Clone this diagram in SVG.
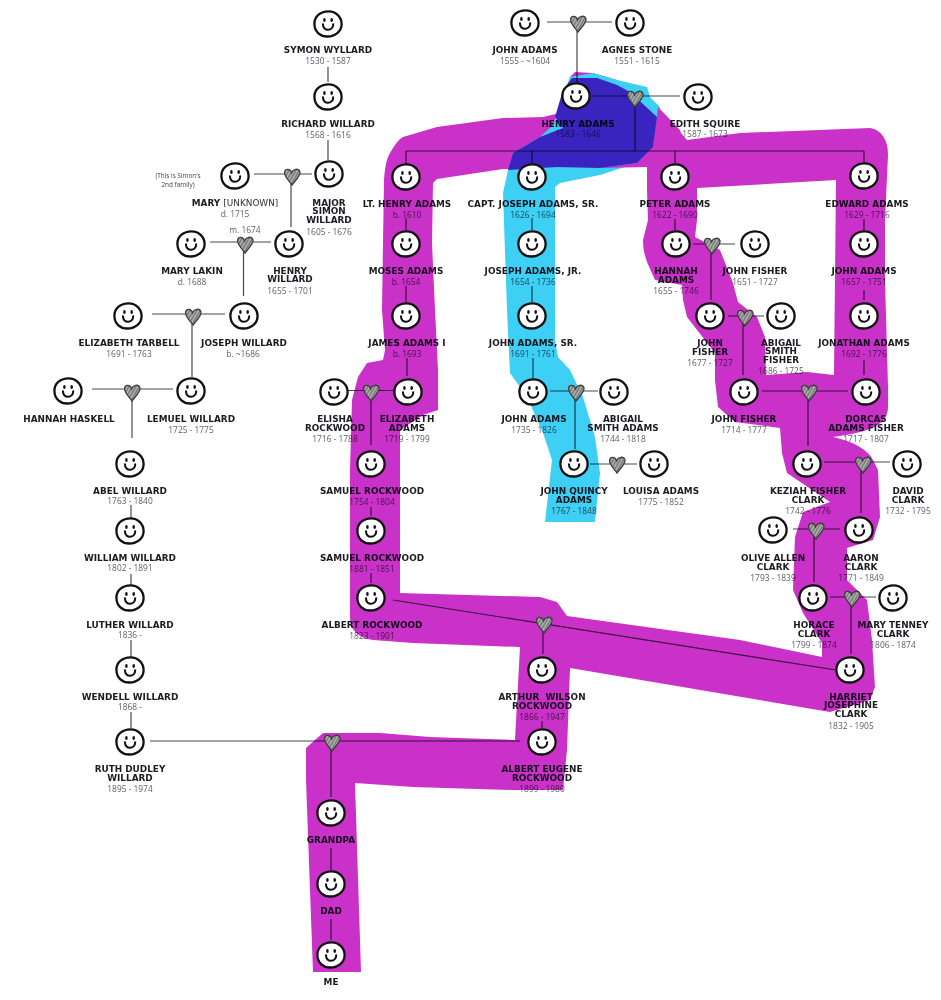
<svg xmlns="http://www.w3.org/2000/svg" width="941" height="1000" viewBox="0 0 941 1000">
<style>
text{text-anchor:middle;font-family:"Open Sans","Noto Sans","DejaVu Sans",sans-serif;mix-blend-mode:multiply}
.n{font-family:"DejaVu Sans",sans-serif;font-size:8.9px;font-weight:700;fill:#1b1b22}
.d{font-size:8.4px;fill:#606066}
.s{font-size:6.4px;fill:#444}
.l{font-weight:400;fill:#333}
#connectors line{stroke:#4a4a4e;stroke-width:1.2;mix-blend-mode:multiply}
.hb{fill:url(#hatch);stroke:#3c3c3c;stroke-width:1.3}
</style>
<defs>
<pattern id="hatch" width="3" height="3" patternUnits="userSpaceOnUse" patternTransform="rotate(30)">
<rect width="3" height="3" fill="#b0b0b0"/><rect width="1.2" height="3" fill="#6e6e6e"/>
</pattern>
<g id="f">
<path d="M-13.6,0C-13.8,-8 -7,-12.6 0.5,-12.6C8,-12.6 13.7,-7 13.6,0.2C13.5,7.5 7,12.4 -0.5,12.5C-7.5,12.6 -13.4,8 -13.6,0Z" fill="#fff" stroke="#111" stroke-width="2.3"/>
<ellipse cx="-3.6" cy="-4" rx="1.3" ry="2" fill="#111"/>
<ellipse cx="3.7" cy="-4" rx="1.3" ry="2" fill="#111"/>
<path d="M-5,0.4C-5.2,7.6 5.2,7.6 5.2,0.2" fill="none" stroke="#111" stroke-width="2.1" stroke-linecap="round"/>
</g>
<path id="h" class="hb" d="M0,9C-2.6,5 -7.8,1 -7.4,-3.6C-7,-7.8 -2,-7.6 -0.4,-3.2C0.8,-6.8 6.6,-8.4 8,-4.4C9,-0.6 3,4.8 0,9Z"/>
</defs>
<g id="bands">
<path fill="#c931c9" fill-rule="evenodd" d="M313,972L306,780L306,748L323,733L380,733L430,737L515,740L520,647L413,643L373,640C358,638 350,630 350,617L350,470L352,400L358,377L367,363L383,360L385,350L382,310L383,243L384,180C385,165 387,158 390,153C394,146 398,140 403,137L437,127L503,118L543,117L560,113L570,77L575,72L593,73L617,80L653,103L667,117L687,140L740,133L870,128C882,130 888,140 888,155L885,220L885,280L888,387L888,407C888,425 870,432 833,437C855,442 868,450 873,460L878,470L880,517L873,540L847,548L847,580L867,600L872,640L875,687L870,700L830,712L570,668L567,750L563,790L513,790L413,787L355,783L361,972Z M433,183L437,179L503,169L560,168L637,163L647,167L647,190L648,220L643,240C643,250 645,256 647,262L655,280L682,285L683,300L687,317L715,353L715,380L718,407L735,422L780,428L782,453L787,473L830,502L803,512L795,537L793,590L803,613L822,643L822,657L740,640L567,616L557,602L540,597L400,593L400,430L423,415L438,410L438,370L435,310L432,243Z M697,188L836,180L834,375L807,372L766,375L765,337L757,317L738,302L733,283L720,250L695,237L697,220Z"/>
<path fill="#3dcff4" d="M570,77L558,110L553,125L540,137L513,153L508,170L503,193L507,310L510,373L527,397L543,433L552,460L545,522L595,522L600,473L595,437L583,397L570,370L558,357L555,340L555,187L560,183L600,175L637,163L653,147L660,107L650,97L647,87L617,80L593,73Z"/>
<path fill="#c931c9" d="M600,168L637,163L653,147L658,107L680,130L690,165L647,167Z"/>
<path fill="#3a24c0" d="M572,78L597,78L617,85L630,92L657,117L653,147L637,163L600,168L557,167L508,170L513,153L540,137L563,128L555,117L563,90Z"/>
</g>
<g id="connectors">
<line x1="328" y1="67" x2="328" y2="82"/><line x1="328" y1="140" x2="328" y2="160"/>
<line x1="254" y1="174" x2="312" y2="174"/><line x1="291" y1="176" x2="291" y2="227"/>
<line x1="210" y1="242" x2="271" y2="242"/><line x1="243.500" y1="244" x2="243.500" y2="296"/>
<line x1="152" y1="314" x2="225" y2="314"/><line x1="192" y1="316" x2="192" y2="377"/>
<line x1="92" y1="389" x2="173" y2="389"/><line x1="132" y1="392" x2="132" y2="438"/>
<line x1="131" y1="505" x2="131" y2="518"/><line x1="131" y1="574" x2="131" y2="585"/><line x1="131" y1="640" x2="131" y2="657"/><line x1="131" y1="712" x2="131" y2="728"/>
<line x1="150" y1="741" x2="520" y2="741"/><line x1="331" y1="742" x2="331" y2="797"/><line x1="331" y1="848" x2="331" y2="870"/><line x1="331" y1="919" x2="331" y2="940"/>
<line x1="547" y1="22" x2="612" y2="22"/><line x1="577" y1="22" x2="577" y2="82"/>
<line x1="592" y1="96" x2="680" y2="96"/><line x1="635" y1="98" x2="635" y2="151"/>
<line x1="406" y1="151" x2="864" y2="151"/><line x1="406" y1="151" x2="406" y2="165"/><line x1="532" y1="151" x2="532" y2="163"/><line x1="675" y1="151" x2="675" y2="163"/><line x1="864" y1="151" x2="864" y2="163"/>
<line x1="406" y1="218" x2="406" y2="230"/><line x1="406" y1="286" x2="406" y2="302"/><line x1="407" y1="358" x2="407" y2="376"/>
<line x1="348" y1="390.500" x2="395" y2="390.500"/><line x1="371" y1="392" x2="371" y2="445"/>
<line x1="371" y1="507" x2="371" y2="516"/><line x1="371" y1="573" x2="371" y2="583"/>
<line x1="393" y1="600" x2="836" y2="670"/><line x1="543" y1="624" x2="543" y2="654"/><line x1="542" y1="721" x2="542" y2="728"/>
<line x1="532" y1="218" x2="532" y2="230"/><line x1="532" y1="286" x2="532" y2="302"/><line x1="533" y1="358" x2="533" y2="378"/>
<line x1="550" y1="391" x2="598" y2="391"/><line x1="575" y1="392" x2="575" y2="449"/><line x1="590" y1="464" x2="637" y2="464"/>
<line x1="675" y1="219" x2="675" y2="230"/><line x1="693" y1="244" x2="735" y2="244"/><line x1="711" y1="245" x2="711" y2="300"/>
<line x1="728" y1="316" x2="764" y2="316"/><line x1="743" y1="317" x2="743" y2="375"/>
<line x1="762" y1="391" x2="848" y2="391"/><line x1="808" y1="392" x2="808" y2="446"/>
<line x1="824" y1="462" x2="890" y2="462"/><line x1="861" y1="464" x2="861" y2="513"/>
<line x1="793" y1="529" x2="840" y2="529"/><line x1="814" y1="530" x2="814" y2="582"/>
<line x1="830" y1="597" x2="876" y2="597"/><line x1="851" y1="598" x2="851" y2="654"/>
<line x1="864" y1="219" x2="864" y2="230"/><line x1="864" y1="290" x2="864" y2="300"/><line x1="864" y1="360" x2="864" y2="375"/>
</g>
<g id="hearts">
<use href="#h" x="292" y="176"/><use href="#h" x="245" y="244"/><use href="#h" x="193" y="316"/><use href="#h" x="132" y="392"/><use href="#h" x="332" y="742"/>
<use href="#h" x="578" y="23"/><use href="#h" x="635" y="98"/><use href="#h" x="371" y="392"/><use href="#h" x="544" y="624"/><use href="#h" x="576" y="392"/><use href="#h" x="617" y="464"/>
<use href="#h" x="712" y="245"/><use href="#h" x="745" y="317"/><use href="#h" x="809" y="392"/><use href="#h" x="863" y="464"/><use href="#h" x="816" y="530"/><use href="#h" x="852" y="598"/>
</g>
<g id="symon-wyllard"><use href="#f" x="328" y="24"/><text class="n" x="328" y="52.500">SYMON WYLLARD</text><text class="d" x="328" y="64">1530 - 1587</text></g>
<g id="richard-willard"><use href="#f" x="328" y="97"/><text class="n" x="328" y="126.500">RICHARD WILLARD</text><text class="d" x="328" y="138">1568 - 1616</text></g>
<g id="major-simon"><use href="#f" x="329" y="174"/><text class="n" x="329" y="205.500">MAJOR</text><text class="n" x="329" y="214">SIMON</text><text class="n" x="329" y="222.500">WILLARD</text><text class="d" x="329" y="234.500">1605 - 1676</text></g>
<g id="mary-unknown"><use href="#f" x="235" y="176"/><text class="n" x="235" y="205.500">MARY <tspan class="l">[UNKNOWN]</tspan></text><text class="d" x="235" y="216.500">d. 1715</text><text class="s" x="178" y="177.500">(This is Simon's</text><text class="s" x="178" y="186.500">2nd family)</text></g>
<g id="henry-willard"><use href="#f" x="289" y="244"/><text class="n" x="290" y="273.500">HENRY</text><text class="n" x="290" y="282">WILLARD</text><text class="d" x="290" y="293.500">1655 - 1701</text></g>
<g id="mary-lakin"><use href="#f" x="191" y="244"/><text class="n" x="192" y="273.500">MARY LAKIN</text><text class="d" x="192" y="284.500">d. 1688</text><text class="d" x="245" y="233">m. 1674</text></g>
<g id="joseph-willard"><use href="#f" x="244" y="316"/><text class="n" x="244" y="345.500">JOSEPH WILLARD</text><text class="d" x="243" y="357">b. ~1686</text></g>
<g id="elizabeth-tarbell"><use href="#f" x="128" y="316"/><text class="n" x="129" y="345.500">ELIZABETH TARBELL</text><text class="d" x="129" y="357">1691 - 1763</text></g>
<g id="lemuel-willard"><use href="#f" x="191" y="391"/><text class="n" x="191" y="421.500">LEMUEL WILLARD</text><text class="d" x="191" y="432.500">1725 - 1775</text></g>
<g id="hannah-haskell"><use href="#f" x="68" y="391"/><text class="n" x="69" y="421.500">HANNAH HASKELL</text></g>
<g id="abel-willard"><use href="#f" x="130" y="464"/><text class="n" x="130" y="493.500">ABEL WILLARD</text><text class="d" x="130" y="503.500">1763 - 1840</text></g>
<g id="william-willard"><use href="#f" x="130" y="531"/><text class="n" x="130" y="560.500">WILLIAM WILLARD</text><text class="d" x="130" y="571">1802 - 1891</text></g>
<g id="luther-willard"><use href="#f" x="130" y="598"/><text class="n" x="130" y="627.500">LUTHER WILLARD</text><text class="d" x="130" y="638">1836 -</text></g>
<g id="wendell-willard"><use href="#f" x="130" y="670"/><text class="n" x="130" y="699.500">WENDELL WILLARD</text><text class="d" x="130" y="710">1868 -</text></g>
<g id="ruth-willard"><use href="#f" x="130" y="742"/><text class="n" x="130" y="771.500">RUTH DUDLEY</text><text class="n" x="130" y="780.500">WILLARD</text><text class="d" x="130" y="792">1895 - 1974</text></g>
<g id="john-adams-1"><use href="#f" x="525" y="23"/><text class="n" x="525" y="52.500">JOHN ADAMS</text><text class="d" x="525" y="63.500">1555 - ~1604</text></g>
<g id="agnes-stone"><use href="#f" x="630" y="23"/><text class="n" x="637" y="52.500">AGNES STONE</text><text class="d" x="637" y="63.500">1551 - 1615</text></g>
<g id="henry-adams"><use href="#f" x="576" y="96"/><text class="n" x="578" y="126.500">HENRY ADAMS</text><text class="d" x="578" y="137">1583 - 1646</text></g>
<g id="edith-squire"><use href="#f" x="698" y="97"/><text class="n" x="705" y="126.500">EDITH SQUIRE</text><text class="d" x="705" y="137">1587 - 1673</text></g>
<g id="lt-henry-adams"><use href="#f" x="406" y="177"/><text class="n" x="407" y="206.500">LT. HENRY ADAMS</text><text class="d" x="407" y="217.500">b. 1610</text></g>
<g id="capt-joseph-adams"><use href="#f" x="532" y="177"/><text class="n" x="533" y="206.500">CAPT. JOSEPH ADAMS, SR.</text><text class="d" x="533" y="217.500">1626 - 1694</text></g>
<g id="peter-adams"><use href="#f" x="675" y="177"/><text class="n" x="675" y="206.500">PETER ADAMS</text><text class="d" x="675" y="217.500">1622 - 1690</text></g>
<g id="edward-adams"><use href="#f" x="864" y="176"/><text class="n" x="867" y="206.500">EDWARD ADAMS</text><text class="d" x="867" y="217.500">1629 - 1716</text></g>
<g id="moses-adams"><use href="#f" x="406" y="244"/><text class="n" x="406" y="273.500">MOSES ADAMS</text><text class="d" x="406" y="284.500">b. 1654</text></g>
<g id="james-adams"><use href="#f" x="406" y="316"/><text class="n" x="407" y="345.500">JAMES ADAMS I</text><text class="d" x="407" y="356.500">b. 1693</text></g>
<g id="elisha-rockwood"><use href="#f" x="334" y="392"/><text class="n" x="335" y="421.500">ELISHA</text><text class="n" x="335" y="430.500">ROCKWOOD</text><text class="d" x="335" y="441.500">1716 - 1788</text></g>
<g id="elizabeth-adams"><use href="#f" x="408" y="392"/><text class="n" x="407" y="421.500">ELIZABETH</text><text class="n" x="407" y="430.500">ADAMS</text><text class="d" x="407" y="441.500">1719 - 1799</text></g>
<g id="samuel-rockwood-1"><use href="#f" x="371" y="464"/><text class="n" x="372" y="493.500">SAMUEL ROCKWOOD</text><text class="d" x="372" y="504.500">1754 - 1804</text></g>
<g id="samuel-rockwood-2"><use href="#f" x="371" y="531"/><text class="n" x="372" y="560.500">SAMUEL ROCKWOOD</text><text class="d" x="372" y="571.500">1881 - 1851</text></g>
<g id="albert-rockwood"><use href="#f" x="371" y="598"/><text class="n" x="372" y="627.500">ALBERT ROCKWOOD</text><text class="d" x="372" y="638.500">1823 - 1901</text></g>
<g id="joseph-adams-jr"><use href="#f" x="532" y="244"/><text class="n" x="533" y="273.500">JOSEPH ADAMS, JR.</text><text class="d" x="533" y="284.500">1654 - 1736</text></g>
<g id="john-adams-sr"><use href="#f" x="532" y="316"/><text class="n" x="533" y="345.500">JOHN ADAMS, SR.</text><text class="d" x="533" y="356.500">1691 - 1761</text></g>
<g id="john-adams-2"><use href="#f" x="533" y="392"/><text class="n" x="534" y="421.500">JOHN ADAMS</text><text class="d" x="534" y="432.500">1735 - 1826</text></g>
<g id="abigail-smith-adams"><use href="#f" x="614" y="392"/><text class="n" x="623" y="421.500">ABIGAIL</text><text class="n" x="623" y="430.500">SMITH ADAMS</text><text class="d" x="623" y="441.500">1744 - 1818</text></g>
<g id="john-quincy-adams"><use href="#f" x="574" y="464"/><text class="n" x="574" y="493.500">JOHN QUINCY</text><text class="n" x="574" y="502.500">ADAMS</text><text class="d" x="574" y="513.500">1767 - 1848</text></g>
<g id="louisa-adams"><use href="#f" x="654" y="464"/><text class="n" x="661" y="493.500">LOUISA ADAMS</text><text class="d" x="661" y="504.500">1775 - 1852</text></g>
<g id="hannah-adams"><use href="#f" x="676" y="244"/><text class="n" x="676" y="273.500">HANNAH</text><text class="n" x="676" y="282.500">ADAMS</text><text class="d" x="676" y="293.500">1655 - 1746</text></g>
<g id="john-fisher-1"><use href="#f" x="755" y="244"/><text class="n" x="755" y="273.500">JOHN FISHER</text><text class="d" x="755" y="284.500">1651 - 1727</text></g>
<g id="john-fisher-2"><use href="#f" x="710" y="316"/><text class="n" x="710" y="345.500">JOHN</text><text class="n" x="710" y="354.500">FISHER</text><text class="d" x="710" y="365.500">1677 - 1727</text></g>
<g id="abigail-smith-fisher"><use href="#f" x="781" y="316"/><text class="n" x="781" y="345.500">ABIGAIL</text><text class="n" x="781" y="354">SMITH</text><text class="n" x="781" y="362.500">FISHER</text><text class="d" x="781" y="373.500">1686 - 1725</text></g>
<g id="john-fisher-3"><use href="#f" x="744" y="392"/><text class="n" x="744" y="421.500">JOHN FISHER</text><text class="d" x="744" y="432.500">1714 - 1777</text></g>
<g id="dorcas-adams-fisher"><use href="#f" x="866" y="392"/><text class="n" x="866" y="421.500">DORCAS</text><text class="n" x="866" y="430.500">ADAMS FISHER</text><text class="d" x="866" y="441.500">1717 - 1807</text></g>
<g id="john-adams-3"><use href="#f" x="864" y="244"/><text class="n" x="864" y="273.500">JOHN ADAMS</text><text class="d" x="864" y="284.500">1657 - 1751</text></g>
<g id="jonathan-adams"><use href="#f" x="864" y="316"/><text class="n" x="864" y="345.500">JONATHAN ADAMS</text><text class="d" x="864" y="356.500">1692 - 1776</text></g>
<g id="keziah-fisher-clark"><use href="#f" x="807" y="464"/><text class="n" x="808" y="493.500">KEZIAH FISHER</text><text class="n" x="808" y="502.500">CLARK</text><text class="d" x="808" y="513.500">1742 - 1776</text></g>
<g id="david-clark"><use href="#f" x="907" y="464"/><text class="n" x="908" y="493.500">DAVID</text><text class="n" x="908" y="502.500">CLARK</text><text class="d" x="908" y="513.500">1732 - 1795</text></g>
<g id="olive-allen-clark"><use href="#f" x="773" y="530"/><text class="n" x="773" y="560.500">OLIVE ALLEN</text><text class="n" x="773" y="569.500">CLARK</text><text class="d" x="773" y="580.500">1793 - 1839</text></g>
<g id="aaron-clark"><use href="#f" x="859" y="530"/><text class="n" x="861" y="560.500">AARON</text><text class="n" x="861" y="569.500">CLARK</text><text class="d" x="861" y="580.500">1771 - 1849</text></g>
<g id="horace-clark"><use href="#f" x="813" y="598"/><text class="n" x="814" y="627.500">HORACE</text><text class="n" x="814" y="636.500">CLARK</text><text class="d" x="814" y="647.500">1799 - 1874</text></g>
<g id="mary-tenney-clark"><use href="#f" x="893" y="598"/><text class="n" x="893" y="627.500">MARY TENNEY</text><text class="n" x="893" y="636.500">CLARK</text><text class="d" x="893" y="647.500">1806 - 1874</text></g>
<g id="harriet-josephine-clark"><use href="#f" x="850" y="670"/><text class="n" x="851" y="699.500">HARRIET</text><text class="n" x="851" y="708">JOSEPHINE</text><text class="n" x="851" y="717">CLARK</text><text class="d" x="851" y="728.500">1832 - 1905</text></g>
<g id="arthur-wilson-rockwood"><use href="#f" x="542" y="670"/><text class="n" x="542" y="699.500" xml:space="preserve">ARTHUR  WILSON</text><text class="n" x="542" y="708.500">ROCKWOOD</text><text class="d" x="542" y="719.500">1866 - 1947</text></g>
<g id="albert-eugene-rockwood"><use href="#f" x="542" y="742"/><text class="n" x="542" y="771.500">ALBERT EUGENE</text><text class="n" x="542" y="780.500">ROCKWOOD</text><text class="d" x="542" y="791.500">1899 - 1980</text></g>
<g id="grandpa"><use href="#f" x="331" y="813"/><text class="n" x="331" y="842.500">GRANDPA</text></g>
<g id="dad"><use href="#f" x="331" y="884"/><text class="n" x="331" y="913.500">DAD</text></g>
<g id="me"><use href="#f" x="331" y="955"/><text class="n" x="331" y="984.500">ME</text></g>
</svg>
